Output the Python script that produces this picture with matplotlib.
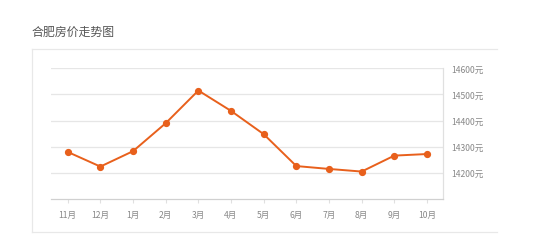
import matplotlib
matplotlib.use("Agg")
import matplotlib.pyplot as plt
from matplotlib.lines import Line2D

plt.rcParams['font.family'] = ['Noto Sans CJK SC', 'DejaVu Sans']

months = ["11月", "12月", "1月", "2月", "3月", "4月", "5月", "6月", "7月", "8月", "9月", "10月"]
prices = [14280, 14224, 14283, 14390, 14515, 14437, 14348, 14226, 14215, 14205, 14266, 14272]
yticks = [14200, 14300, 14400, 14500, 14600]
ytick_labels = ["14200元", "14300元", "14400元", "14500元", "14600元"]

W, H = 555, 251
fig = plt.figure(figsize=(W / 100, H / 100), dpi=100)

# outer panel border (top, left, bottom)
x0, x1 = 31.7 / W, 496.5 / W
y0, y1 = 1 - 233.3 / H, 1 - 50 / H
for xs, ys in [([x0, x1], [y1, y1]), ([x0, x0], [y0, y1]), ([x0, x1], [y0, y0])]:
    fig.add_artist(Line2D(xs, ys, transform=fig.transFigure, color="#e8e8e8", lw=0.9))

fig.text(31.7 / W, 1 - 32.7 / H, "合肥房价走势图", fontsize=8.6, color="#555555",
         ha="left", va="center")

ax = fig.add_axes([51.4 / W, 1 - 200 / H, (443.3 - 51.4) / W, (200 - 69.3) / H])
x = list(range(len(months)))
ax.plot(x, prices, color="#e8601c", lw=1.4, marker="o", markersize=4.2,
        markerfacecolor="#e8601c", markeredgecolor="#e8601c", zorder=3)

ax.set_xlim(-0.5, len(months) - 0.5)
ax.set_ylim(14100, 14600)
ax.set_xticks(x)
ax.set_xticklabels(months)
ax.set_yticks(yticks)
ax.set_yticklabels(ytick_labels)
ax.yaxis.tick_right()
ax.grid(axis="y", color="#e6e6e6", lw=0.9)
ax.set_axisbelow(True)

for s in ["top", "left"]:
    ax.spines[s].set_visible(False)
ax.spines["right"].set_color("#e0e0e0")
ax.spines["right"].set_linewidth(0.9)
ax.spines["bottom"].set_color("#d0d0d0")
ax.spines["bottom"].set_linewidth(0.9)

ax.tick_params(axis="x", length=3, color="#e0e0e0", labelsize=6.2, labelcolor="#888888", pad=5)
ax.tick_params(axis="y", length=0, labelsize=6.2, labelcolor="#888888", pad=6)

fig.savefig("out.png", dpi=100, facecolor="white")
